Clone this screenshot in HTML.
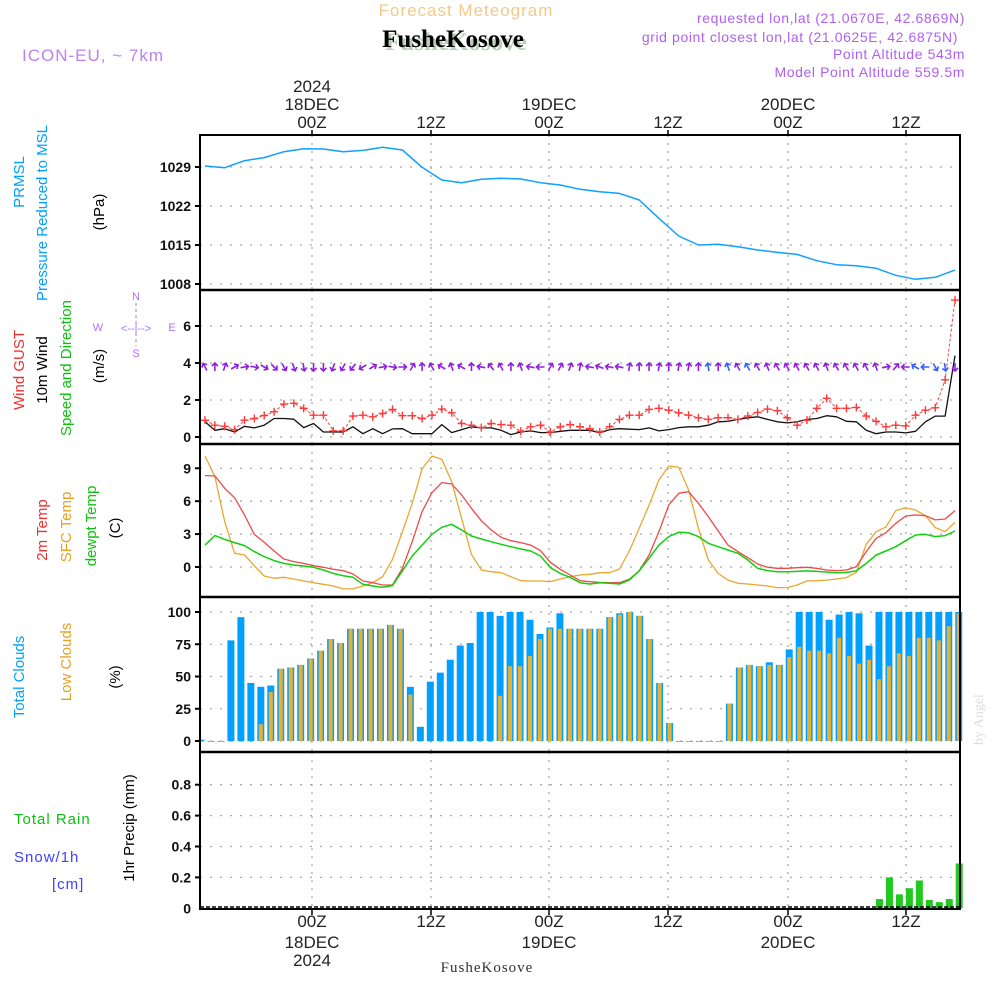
<!DOCTYPE html>
<html><head><meta charset="utf-8"><style>
html,body{margin:0;padding:0;background:#fff;}
svg{display:block;font-family:"Liberation Sans",sans-serif;}
</style></head><body>
<svg id="chart" width="1000" height="1000" viewBox="0 0 1000 1000" xmlns="http://www.w3.org/2000/svg">
<rect x="0" y="0" width="1000" height="1000" fill="#fff"/>
<!-- header -->
<text x="466" y="16" font-size="17" fill="#f3c98a" text-anchor="middle" letter-spacing="1">Forecast Meteogram</text>
<text x="456" y="50" font-size="25" font-weight="bold" font-family="Liberation Serif,serif" fill="#b9cfb9" text-anchor="middle">FusheKosove</text>
<text x="453" y="47" font-size="25" font-weight="bold" font-family="Liberation Serif,serif" fill="#000" text-anchor="middle">FusheKosove</text>
<text x="22" y="61" font-size="17" fill="#c080f0" letter-spacing="1">ICON-EU, ~ 7km</text>
<g font-size="14" fill="#b060f0" text-anchor="end" letter-spacing="0.6">
<text x="965" y="23">requested lon,lat (21.0670E, 42.6869N)</text>
<text x="958" y="42">grid point closest lon,lat (21.0625E, 42.6875N)</text>
<text x="965" y="59">Point Altitude 543m</text>
<text x="965" y="77">Model Point Altitude 559.5m</text>
</g>
<!-- top time axis -->
<g font-size="17" fill="#222" text-anchor="middle">
<text x="312" y="92">2024</text>
<text x="312" y="110">18DEC</text><text x="312" y="128">00Z</text>
<text x="431" y="128">12Z</text>
<text x="549" y="110">19DEC</text><text x="549" y="128">00Z</text>
<text x="668" y="128">12Z</text>
<text x="788" y="110">20DEC</text><text x="788" y="128">00Z</text>
<text x="906" y="128">12Z</text>
</g>
<g font-size="17" fill="#222" text-anchor="middle">
<text x="312" y="927">00Z</text><text x="312" y="948">18DEC</text><text x="312" y="966">2024</text>
<text x="431" y="927">12Z</text>
<text x="549" y="927">00Z</text><text x="549" y="948">19DEC</text>
<text x="668" y="927">12Z</text>
<text x="788" y="927">00Z</text><text x="788" y="948">20DEC</text>
<text x="906" y="927">12Z</text>
</g>
<text x="487" y="972" font-size="15" font-family="Liberation Serif,serif" fill="#333" text-anchor="middle" letter-spacing="1">FusheKosove</text>
<text transform="translate(983,745) rotate(-90)" font-size="14" font-family="Liberation Serif,serif" fill="#ddd">by Angel</text>

<!-- left panel titles -->
<g font-size="15">
<text transform="translate(24,182) rotate(-90)" fill="#00a0ff" text-anchor="middle">PRMSL</text>
<text transform="translate(47,213) rotate(-90)" fill="#00a0ff" text-anchor="middle">Pressure Reduced to MSL</text>
<text transform="translate(104,212) rotate(-90)" fill="#000" text-anchor="middle">(hPa)</text>
</g>
<g font-size="15">
<text transform="translate(24,370) rotate(-90)" fill="#f03030" text-anchor="middle">Wind GUST</text>
<text transform="translate(47,370) rotate(-90)" fill="#000" text-anchor="middle">10m Wind</text>
<text transform="translate(71,368) rotate(-90)" fill="#10c010" text-anchor="middle">Speed and Direction</text>
<text transform="translate(104,366) rotate(-90)" fill="#000" text-anchor="middle">(m/s)</text>
</g>
<g fill="#b070f0" font-size="11" text-anchor="middle">
<text x="98" y="331">W</text><text x="136" y="332">&lt;--|--&gt;</text><text x="172" y="331">E</text>
<text x="136" y="300">N</text><text x="136" y="357">S</text>
<line x1="136" y1="303" x2="136" y2="346" stroke="#b070f0" stroke-width="1" stroke-dasharray="3,3"/>
</g>
<g font-size="15">
<text transform="translate(47,530) rotate(-90)" fill="#f03030" text-anchor="middle">2m Temp</text>
<text transform="translate(71,527) rotate(-90)" fill="#e8a020" text-anchor="middle">SFC Temp</text>
<text transform="translate(96,526) rotate(-90)" fill="#10c010" text-anchor="middle">dewpt Temp</text>
<text transform="translate(120,528) rotate(-90)" fill="#000" text-anchor="middle">(C)</text>
</g>
<g font-size="15">
<text transform="translate(24,677) rotate(-90)" fill="#00a0ff" text-anchor="middle">Total Clouds</text>
<text transform="translate(71,662) rotate(-90)" fill="#e8a020" text-anchor="middle">Low Clouds</text>
<text transform="translate(120,677) rotate(-90)" fill="#000" text-anchor="middle">(%)</text>
</g>
<g font-size="15">
<text x="14" y="824" fill="#10c010" letter-spacing="1">Total  Rain</text>
<text x="14" y="862" fill="#4040ff" letter-spacing="1">Snow/1h</text>
<text x="52" y="889" fill="#4040ff" letter-spacing="1">[cm]</text>
<text transform="translate(134,828) rotate(-90)" fill="#000" text-anchor="middle">1hr Precip (mm)</text>
</g>

<g id="grid"></g>
<g id="marks"></g>
<g id="frame"></g>
<g id="ticks" font-size="14" font-weight="bold" fill="#111" text-anchor="end"></g>
</svg>
<script>
const pressure=[1029.18,1028.88,1030.14,1030.68,1031.75,1032.29,1032.23,1031.75,1031.99,1032.53,1032.05,1028.94,1026.67,1026.19,1026.79,1026.97,1026.85,1026.19,1025.77,1024.99,1024.57,1024.27,1023.08,1019.79,1016.62,1015.0,1015.12,1014.7,1014.1,1013.68,1013.32,1012.19,1011.47,1011.29,1010.81,1009.56,1008.84,1009.2,1010.5];
const gust=[0.91,0.64,0.58,0.4,0.91,1.0,1.16,1.36,1.78,1.82,1.55,1.18,1.18,0.33,0.33,1.13,1.18,1.09,1.27,1.49,1.15,1.15,1.0,1.18,1.51,1.31,0.73,0.64,0.51,0.73,0.67,0.64,0.31,0.55,0.64,0.27,0.55,0.67,0.55,
0.45,0.27,0.55,0.95,1.18,1.18,1.49,1.55,1.45,1.31,1.18,1.04,0.95,1.04,1.04,0.95,1.13,1.33,1.51,1.42,1.04,0.64,0.91,1.55,2.09,1.55,1.55,1.6,1.13,0.85,0.55,0.64,0.6,1.18,1.45,1.58,3.09,7.4];
const wind=[0.82,0.36,0.45,0.27,0.58,0.49,0.64,1.0,1.0,0.96,0.51,0.73,0.27,0.27,0.27,0.55,0.18,0.45,0.18,0.44,0.45,0.18,0.18,0.18,0.67,0.24,0.4,0.55,0.49,0.49,0.36,0.13,0.27,0.33,0.24,0.24,0.31,0.36,0.36,
0.36,0.22,0.4,0.45,0.42,0.4,0.49,0.33,0.4,0.51,0.55,0.55,0.64,0.82,0.85,0.95,1.04,1.09,0.95,0.82,0.76,0.82,0.95,1.0,1.15,1.09,0.85,0.82,0.36,0.18,0.27,0.27,0.22,0.31,0.82,1.13,1.13,4.4];
const windDir=[-30,0,20,60,80,100,120,135,150,160,170,180,180,200,210,220,240,60,80,100,90,30,0,-30,-60,-20,-60,0,-80,-40,-30,0,-20,-80,-90,30,30,20,10,
-80,-70,-80,-80,10,0,0,10,0,10,10,0,-10,0,-20,-30,-30,-30,-20,-30,-30,-30,-30,-30,-20,-30,-30,-30,-30,-20,80,40,-90,-60,-90,150,170,180];
const temp2m=[8.33,8.3,7.17,6.32,4.74,2.98,2.25,1.46,0.73,0.49,0.33,0.12,-0.03,-0.21,-0.33,-0.64,-1.28,-1.43,-1.64,-1.64,-0.12,2.31,5.05,6.78,7.69,7.57,6.57,5.35,4.22,3.37,2.71,2.4,2.22,2.0,1.49,0.43,-0.21,-0.73,-1.25,
-1.34,-1.40,-1.43,-1.43,-1.12,-0.36,1.09,3.22,5.65,6.72,6.87,5.81,4.59,3.28,2.0,1.4,0.85,0.27,-0.03,-0.12,-0.12,-0.06,-0.03,-0.12,-0.27,-0.33,-0.27,0.03,1.4,2.61,3.13,3.98,4.65,4.74,4.68,4.29,4.38,5.14];
const tempSfc=[10.12,8.24,4.13,1.25,1.09,0.12,-0.82,-1.03,-0.94,-1.09,-1.28,-1.43,-1.58,-1.73,-2.0,-2.0,-1.73,-1.43,-0.88,0.7,3.22,5.8,8.94,10.12,9.82,7.78,4.44,1.16,-0.27,-0.43,-0.52,-0.88,-1.25,-1.28,-1.28,-1.34,-1.09,-0.88,-0.73,
-0.67,-0.52,-0.52,-0.18,1.46,3.53,5.65,7.93,9.21,9.09,7.02,3.53,0.64,-0.58,-1.19,-1.49,-1.55,-1.64,-1.73,-1.88,-1.88,-1.64,-1.28,-1.25,-1.19,-1.09,-0.97,-0.49,2.07,3.22,3.65,5.14,5.41,5.2,4.68,3.59,3.22,4.07];
const dewpt=[2.0,2.86,2.52,2.22,1.95,1.4,0.94,0.58,0.33,0.18,0.09,-0.03,-0.27,-0.58,-0.79,-0.94,-1.58,-1.73,-1.85,-1.70,-0.36,1.0,2.0,2.98,3.62,3.89,3.37,2.83,2.55,2.31,2.07,1.85,1.64,1.46,1.0,-0.06,-0.58,-0.94,-1.43,
-1.55,-1.43,-1.49,-1.55,-1.19,-0.36,0.79,2.0,2.77,3.16,3.13,2.77,2.16,1.85,1.55,1.25,0.64,-0.12,-0.33,-0.43,-0.43,-0.40,-0.36,-0.40,-0.46,-0.52,-0.49,-0.36,0.33,1.09,1.46,1.85,2.4,2.92,2.98,2.77,2.86,3.28];
const totalCloud=[1,0,0,78,96,45,42,43,56,57,59,64,70,79,76,87,87,87,87,90,87,42,11,46,53,63,74,76,100,100,97,100,100,94,83,88,99,87,87,
87,87,96,99,100,97,79,45,14,0,0,0,0,0,29,57,59,58,61,59,71,100,100,100,94,98,100,99,74,100,100,100,100,100,100,100,100,100];
const lowCloud=[0,0,0,0,0,0,13,38,56,57,59,64,70,79,76,87,87,87,87,90,87,36,0,0,0,0,0,0,0,0,35,58,58,66,79,87,87,87,87,
87,87,96,98,100,97,79,45,14,0,0,0,0,0,29,57,59,58,59,59,65,73,70,70,68,80,66,60,63,48,58,68,66,80,80,78,89,99];
const precip=[0,0,0,0,0,0,0,0,0,0,0,0,0,0,0,0,0,0,0,0,0,0,0,0,0,0,0,0,0,0,0,0,0,0,0,0,0,0,0,
0,0,0,0,0,0,0,0,0,0,0,0,0,0,0,0,0,0,0,0,0,0,0,0,0,0,0,0,0,0.06,0.2,0.09,0.13,0.18,0.054,0.04,0.06,0.29];
const pTicks=[1008,1015,1022,1029];
const wTicks=[0,2,4,6];
const tTicks=[0,3,6,9];
const cTicks=[0,25,50,75,100];
const rTicks=[0.2,0.4,0.6,0.8];
const timeGrid=[312,431,549,668,788,906];

const NS='http://www.w3.org/2000/svg';
const L=200,R=960;
function mk(parent,tag,attrs){const e=document.createElementNS(NS,tag);for(const k in attrs)e.setAttribute(k,attrs[k]);parent.appendChild(e);return e;}
const grid=document.getElementById('grid'),marks=document.getElementById('marks'),frame=document.getElementById('frame'),ticks=document.getElementById('ticks');
// axis functions
const xLine=(i,n)=>205+i*(750/(n-1));
const xBar=i=>201+i*9.97;
const yP=v=>284-(v-1008)*5.571;
const yW=v=>437-v*18.5;
const yT=v=>567-v*10.97;
const yC=v=>741-v*1.29;
const yR=v=>908.3-v*154.5;
const panels=[[135,290],[290,444],[444,597],[597,752],[752,909]];

// vertical grid
panels.forEach(([t,b],pi)=>{timeGrid.forEach(x=>{const l=mk(grid,'line',{x1:x,x2:x,y1:t,y2:b,stroke:'#aaa','stroke-width':1.3,'stroke-dasharray':'2,6'});

});});
function hgrid(vals,yf,fmt,name){vals.forEach(v=>{const y=yf(v);const l=mk(grid,'line',{x1:L,x2:R,y1:y,y2:y,stroke:'#aaa','stroke-width':1.3,'stroke-dasharray':'2,8'});


const tk=mk(ticks,'line',{x1:L-5,x2:L,y1:y,y2:y,stroke:'#000','stroke-width':2});


const t=mk(ticks,'text',{x:L-9,y:y+5});t.textContent=fmt(v);

});}
hgrid(pTicks,yP,v=>v,'pressure');
hgrid(wTicks,yW,v=>v,'wind');
hgrid(tTicks,yT,v=>v,'temp');
hgrid(cTicks,yC,v=>v,'cloud');
hgrid(rTicks,yR,v=>v,'precip');
{const t=mk(ticks,'text',{x:L-9,y:yR(0)+5});t.textContent='0';

}
// time ticks
timeGrid.forEach(x=>{const a=mk(frame,'line',{x1:x,x2:x,y1:130,y2:135,stroke:'#000','stroke-width':1.5});


const b=mk(frame,'line',{x1:x,x2:x,y1:909,y2:915,stroke:'#000','stroke-width':1.5});

});

function poly(arr,yf,color,w,name,dash){const n=arr.length;const pts=arr.map((v,i)=>xLine(i,n).toFixed(1)+','+yf(v).toFixed(1)).join(' ');
const p=mk(marks,'polyline',{points:pts,fill:'none',stroke:color,'stroke-width':w,'stroke-linejoin':'round'});
if(dash)p.setAttribute('stroke-dasharray',dash);

return p;}

// clouds
totalCloud.forEach((v,i)=>{const y=yC(v);const r=mk(marks,'rect',{x:xBar(i)-3.5,y:y,width:7,height:Math.max(yC(0)-y,0.8),fill:'#00a0ff'});

});
lowCloud.forEach((v,i)=>{const y=yC(v);const r=mk(marks,'rect',{x:xBar(i)-2,y:y,width:4,height:Math.max(yC(0)-y,0.8),fill:'#e8b030'});

});
// precip
precip.forEach((v,i)=>{if(v<=0)return;const y=yR(v);const r=mk(marks,'rect',{x:xBar(i)-3,y:y,width:7,height:yR(0)-y,fill:'#20c820'});

});
{const l=mk(marks,'line',{x1:L,x2:R,y1:907,y2:907,stroke:'#000','stroke-width':1.5,'stroke-dasharray':'4,2'});

}

// pressure
poly(pressure,yP,'#10a0ff',1.5,'pressure-line');
// temps
poly(tempSfc,yT,'#e8a830',1.3,'sfc-temp-line');
poly(temp2m,yT,'#f04848',1.3,'temp-2m-line');
poly(dewpt,yT,'#10d010',1.5,'dewpoint-line');
// wind
poly(wind,yW,'#111',1.3,'wind-speed-line');
poly(gust,yW,'#f04848',1,'gust-line','3,2');
gust.forEach((v,i)=>{const x=xLine(i,gust.length),y=yW(v);const g=mk(marks,'path',{d:`M${x-4},${y}h8M${x},${y-4}v8`,stroke:'#ff3838','stroke-width':1.4});

});
windDir.forEach((a,i)=>{const x=xLine(i,windDir.length),y=367;const col=(i>=72&&i<=75)||(i>=51&&i<=55&&i%2)?'#3060ff':'#9020e0';
const g=mk(marks,'path',{d:'M0,4L0,-4M-3,-1L0,-4L3,-1',fill:'none',stroke:col,'stroke-width':1.6,transform:`translate(${x},${y}) rotate(${a})`});

});

// frame
{const r=mk(frame,'rect',{x:L,y:135,width:R-L,height:774,fill:'none',stroke:'#000','stroke-width':2});

}
[290,444,597,752].forEach(y=>{const l=mk(frame,'line',{x1:L,x2:R,y1:y,y2:y,stroke:'#000','stroke-width':2.5});

});
</script>
</body></html>
